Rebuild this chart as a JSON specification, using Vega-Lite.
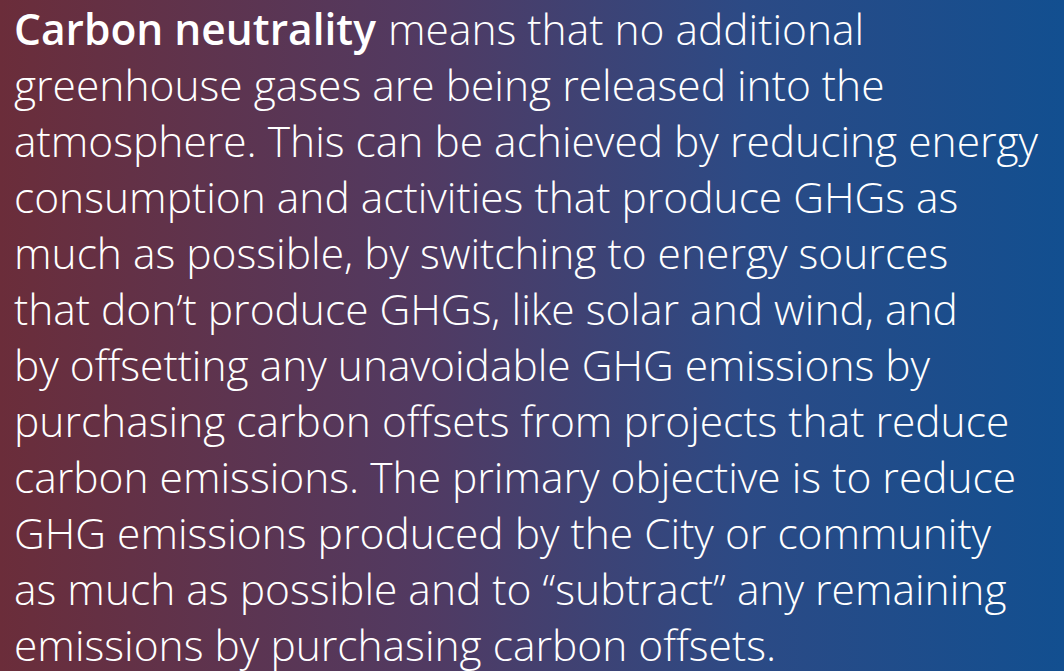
{
  "$schema": "https://vega.github.io/schema/vega-lite/v6.json",
  "width": 1064,
  "height": 671,
  "autosize": {"type": "fit", "contains": "padding"},
  "padding": 0,
  "background": "#3a4070",
  "config": {
    "view": {
      "stroke": null,
      "fill": {
        "gradient": "linear",
        "x1": 0, "y1": 0, "x2": 1, "y2": 0,
        "stops": [
          {"offset": 0, "color": "#6b2d3a"},
          {"offset": 0.4, "color": "#513a62"},
          {"offset": 0.7, "color": "#2c4a85"},
          {"offset": 1, "color": "#124f90"}
        ]
      }
    }
  },
  "data": {
    "values": [
      {"line": 1, "bold": "Carbon neutrality", "text": "means that no additional"},
      {"line": 2, "bold": "", "text": "greenhouse gases are being released into the"},
      {"line": 3, "bold": "", "text": "atmosphere. This can be achieved by reducing energy"},
      {"line": 4, "bold": "", "text": "consumption and activities that produce GHGs as"},
      {"line": 5, "bold": "", "text": "much as possible, by switching to energy sources"},
      {"line": 6, "bold": "", "text": "that don’t produce GHGs, like solar and wind, and"},
      {"line": 7, "bold": "", "text": "by offsetting any unavoidable GHG emissions by"},
      {"line": 8, "bold": "", "text": "purchasing carbon offsets from projects that reduce"},
      {"line": 9, "bold": "", "text": "carbon emissions. The primary objective is to reduce"},
      {"line": 10, "bold": "", "text": "GHG emissions produced by the City or community"},
      {"line": 11, "bold": "", "text": "as much as possible and to “subtract” any remaining"},
      {"line": 12, "bold": "", "text": "emissions by purchasing carbon offsets."}
    ]
  },
  "encoding": {
    "y": {"field": "line", "type": "quantitative", "scale": {"domain": [0.1964, 12.179], "reverse": true, "nice": false, "zero": false}, "axis": null},
    "x": {"datum": 0, "type": "quantitative", "scale": {"domain": [-14, 1050], "nice": false, "zero": false}, "axis": null}
  },
  "layer": [
    {
      "transform": [{"filter": "datum.line > 1"}],
      "mark": {"type": "text", "align": "left", "baseline": "alphabetic", "font": "Open Sans", "fontSize": 42.5, "fontWeight": 300, "color": "white"},
      "encoding": {"text": {"field": "text"}}
    },
    {
      "transform": [{"filter": "datum.line == 1"}],
      "mark": {"type": "text", "align": "left", "baseline": "alphabetic", "font": "Open Sans", "fontSize": 42.5, "fontWeight": 600, "color": "white"},
      "encoding": {"text": {"field": "bold"}}
    },
    {
      "transform": [{"filter": "datum.line == 1"}],
      "mark": {"type": "text", "align": "left", "baseline": "alphabetic", "font": "Open Sans", "fontSize": 42.5, "fontWeight": 300, "color": "white", "dx": 374},
      "encoding": {"text": {"field": "text"}}
    }
  ]
}
